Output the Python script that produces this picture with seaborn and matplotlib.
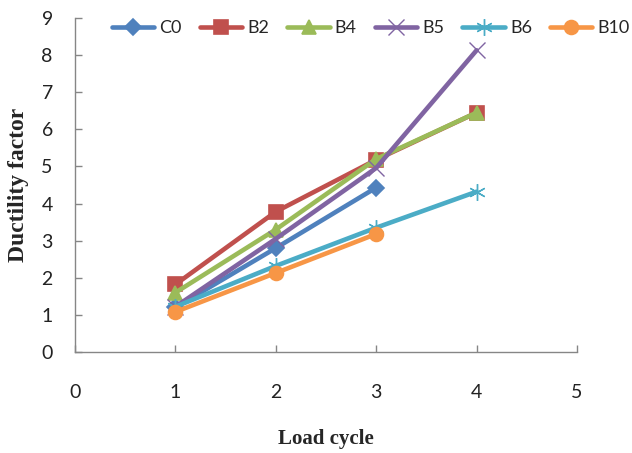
import matplotlib
matplotlib.use("Agg")
import matplotlib.pyplot as plt
import seaborn as sns
import pandas as pd

# Ductility factor per load cycle for each specimen
cycles = [1, 2, 3, 4]
series_names = ["C0", "B2", "B4", "B5", "B6", "B10"]
c0 = [1.2, 2.8, 4.43]
b2 = [1.82, 3.78, 5.18, 6.45]
b4 = [1.6, 3.3, 5.2, 6.45]
b5 = [1.22, 3.05, 4.96, 8.13]
b6 = [1.22, 2.32, 3.35, 4.32]
b10 = [1.08, 2.13, 3.18]

values = [c0, b2, b4, b5, b6, b10]
rows = []
for name, vals in zip(series_names, values):
    for cyc, v in zip(cycles, vals):
        rows.append({"Load cycle": cyc, "Ductility factor": v, "Specimen": name})
df = pd.DataFrame(rows)

colors = {"C0": "#4F81BD", "B2": "#C0504D", "B4": "#9BBB59",
          "B5": "#8064A2", "B6": "#4BACC6", "B10": "#F79646"}
markers = {"C0": "D", "B2": "s", "B4": "^", "B5": "x",
           "B6": (6, 2, 0), "B10": "o"}
msizes = {"C0": 8, "B2": 10, "B4": 10, "B5": 12, "B6": 12, "B10": 10}
medges = {"C0": 1.2, "B2": 1.2, "B4": 1.2, "B5": 1.0, "B6": 1.0, "B10": 1.2}

sns.set_style("white")
plt.rcParams["font.family"] = ["Lato", "DejaVu Sans"]

fig = plt.figure(figsize=(6.32, 4.53), dpi=100)
ax = fig.add_axes([75 / 632, 1 - 352 / 453, 502 / 632, 334 / 453])

for name in series_names:
    sub = df[df["Specimen"] == name]
    sns.lineplot(data=sub, x="Load cycle", y="Ductility factor",
                 color=colors[name], marker=markers[name],
                 markersize=msizes[name], markeredgecolor=colors[name],
                 markerfacecolor=colors[name], markeredgewidth=medges[name],
                 linewidth=3.3, solid_capstyle="round", sort=False,
                 legend=False, ax=ax)

ax.set_xlim(0, 5)
ax.set_ylim(0, 9)
ax.set_xticks(range(0, 6))
ax.set_yticks(range(0, 10))
for side in ("top", "right"):
    ax.spines[side].set_visible(False)
for side in ("left", "bottom"):
    ax.spines[side].set_color("#868686")
    ax.spines[side].set_linewidth(1.0)
ax.tick_params(axis="both", direction="in", length=5, width=1.0,
               color="#868686", labelsize=14, labelcolor="#222222",
               left=True, bottom=True)
ax.tick_params(axis="x", pad=23)
ax.tick_params(axis="y", pad=16)

ax.set_xlabel("Load cycle", family="Liberation Serif", fontweight="bold",
              fontsize=15, labelpad=20)
ax.set_ylabel("Ductility factor", family="Liberation Serif", fontweight="bold",
              fontsize=17, labelpad=9)

handles = [plt.Line2D([], [], color=colors[n], marker=markers[n],
                      markersize=msizes[n], markeredgecolor=colors[n],
                      markeredgewidth=medges[n], linewidth=3.3)
           for n in series_names]
fig.legend(handles, series_names, loc="center left",
           bbox_to_anchor=(112 / 632, 1 - 28 / 453), ncol=6, frameon=False,
           fontsize=13, handlelength=2.35, handletextpad=0.28,
           columnspacing=1.0, borderaxespad=0, borderpad=0)

fig.savefig("out.png", dpi=100)
